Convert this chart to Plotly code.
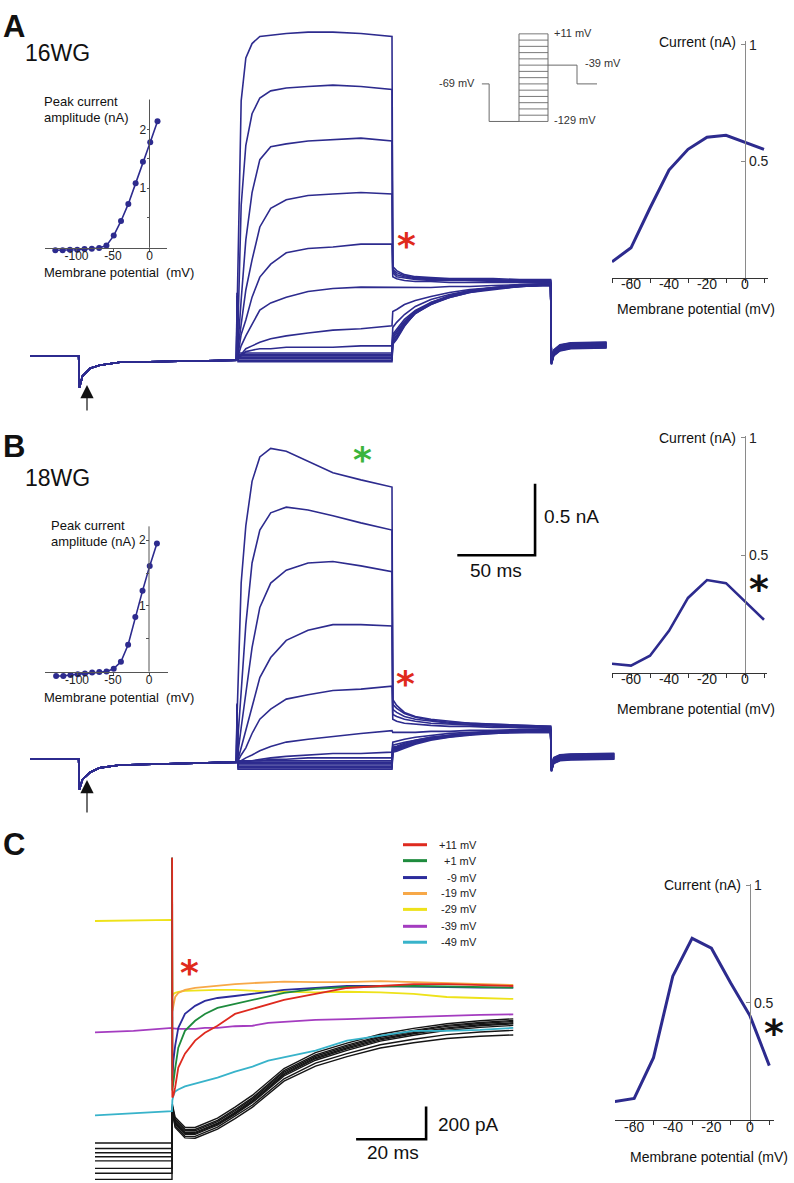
import plotly.graph_objects as go

W, H = 794, 1183
FONT = "Liberation Sans, Arial, Helvetica, sans-serif"
AST_FONT = "DejaVu Sans, Liberation Sans, sans-serif"
NAVY = "#2d2b8e"

# ======================= DATA =======================
test_mV = [11, 1, -9, -19, -29, -39, -49, -59, -69, -79, -89, -99, -109, -119, -129]

# ---- Panel A (16WG) current traces; time in ms (0 = test-pulse onset), current in nA
A_t_pre = [-132.5, -101.5, -101, -99, -94, -88, -75, -40, 0]
A_I_pre = [0.028, 0.028, -0.19, -0.11, -0.056, -0.035, -0.014, -0.007, 0]
A_t_test = [0, 0.3, 1, 3, 6, 10, 15, 22, 32, 46, 62, 80, 100]
A_I_test = [
    [0, 0.30, 0.74, 1.81, 2.11, 2.21, 2.26, 2.27, 2.28, 2.29, 2.29, 2.28, 2.26],
    [0, 0.08, 0.25, 1.08, 1.50, 1.72, 1.83, 1.88, 1.90, 1.91, 1.92, 1.91, 1.89],
    [0, 0.04, 0.11, 0.42, 0.84, 1.17, 1.40, 1.49, 1.51, 1.53, 1.54, 1.55, 1.53],
    [0, 0.03, 0.08, 0.25, 0.49, 0.70, 0.93, 1.06, 1.12, 1.15, 1.16, 1.17, 1.16],
    [0, 0.02, 0.04, 0.18, 0.28, 0.44, 0.58, 0.67, 0.75, 0.78, 0.79, 0.81, 0.81],
    [0, 0.02, 0.03, 0.10, 0.17, 0.25, 0.35, 0.40, 0.44, 0.48, 0.50, 0.51, 0.51],
    [0, 0.05, 0.01, 0.04, 0.08, 0.10, 0.125, 0.15, 0.17, 0.19, 0.21, 0.22, 0.24],
    [0, 0.10, 0.02, 0.03, 0.06, 0.07, 0.08, 0.08, 0.09, 0.09, 0.09, 0.10, 0.10],
    [0, 0.20, 0.05, 0.05, 0.05, 0.05, 0.05, 0.05, 0.05, 0.05, 0.05, 0.05, 0.05],
    [0, 0.25, 0.04, 0.04, 0.04, 0.04, 0.04, 0.04, 0.04, 0.04, 0.04, 0.04, 0.04],
    [0, 0.30, 0.03, 0.03, 0.03, 0.03, 0.03, 0.03, 0.03, 0.03, 0.03, 0.03, 0.03],
    [0, 0.35, 0.02, 0.02, 0.02, 0.02, 0.02, 0.02, 0.02, 0.02, 0.02, 0.02, 0.02],
    [0, 0.40, 0.01, 0.01, 0.01, 0.01, 0.01, 0.01, 0.01, 0.01, 0.01, 0.01, 0.01],
    [0, 0.45, 0.00, 0.00, 0.00, 0.00, 0.00, 0.00, 0.00, 0.00, 0.00, 0.00, 0.00],
    [0, 0.47, -0.01, -0.01, -0.01, -0.01, -0.01, -0.01, -0.01, -0.01, -0.01, -0.01, -0.01],
]
A_t_tail = [100.5, 103, 108, 115, 125, 137, 150, 165, 182, 202, 202.5, 204, 208, 215, 238]
A_I_tail = [
    [0.653, 0.625, 0.597, 0.583, 0.576, 0.569, 0.569, 0.569, 0.563, 0.563, -0.030, 0.030, 0.065, 0.080, 0.085],
    [0.632, 0.611, 0.590, 0.576, 0.569, 0.563, 0.563, 0.563, 0.556, 0.556, -0.028, 0.033, 0.068, 0.083, 0.088],
    [0.625, 0.597, 0.583, 0.569, 0.563, 0.563, 0.556, 0.556, 0.556, 0.556, -0.026, 0.036, 0.071, 0.086, 0.091],
    [0.611, 0.583, 0.576, 0.563, 0.556, 0.556, 0.556, 0.549, 0.549, 0.549, -0.024, 0.039, 0.074, 0.089, 0.094],
    [0.583, 0.569, 0.556, 0.549, 0.549, 0.542, 0.542, 0.542, 0.542, 0.542, -0.022, 0.042, 0.077, 0.092, 0.097],
    [0.507, 0.507, 0.507, 0.507, 0.507, 0.514, 0.514, 0.521, 0.528, 0.535, -0.020, 0.045, 0.080, 0.095, 0.100],
    [0.340, 0.354, 0.389, 0.417, 0.444, 0.472, 0.493, 0.507, 0.521, 0.528, -0.018, 0.048, 0.083, 0.098, 0.103],
    [0.229, 0.264, 0.319, 0.375, 0.424, 0.458, 0.486, 0.507, 0.521, 0.528, -0.016, 0.051, 0.086, 0.101, 0.106],
    [0.181, 0.215, 0.285, 0.347, 0.403, 0.444, 0.479, 0.500, 0.514, 0.521, -0.014, 0.054, 0.089, 0.104, 0.109],
    [0.167, 0.201, 0.271, 0.340, 0.396, 0.444, 0.479, 0.500, 0.514, 0.521, -0.012, 0.057, 0.092, 0.107, 0.112],
    [0.153, 0.188, 0.264, 0.333, 0.396, 0.438, 0.472, 0.500, 0.514, 0.528, -0.010, 0.060, 0.095, 0.110, 0.115],
    [0.139, 0.174, 0.257, 0.333, 0.389, 0.438, 0.472, 0.493, 0.514, 0.528, -0.008, 0.063, 0.098, 0.113, 0.118],
    [0.132, 0.167, 0.250, 0.326, 0.389, 0.444, 0.479, 0.500, 0.521, 0.528, -0.006, 0.066, 0.101, 0.116, 0.121],
    [0.118, 0.153, 0.243, 0.326, 0.396, 0.444, 0.479, 0.500, 0.521, 0.535, -0.004, 0.069, 0.104, 0.119, 0.124],
    [0.111, 0.146, 0.236, 0.333, 0.403, 0.451, 0.486, 0.507, 0.528, 0.535, -0.002, 0.072, 0.107, 0.122, 0.127],
]

# ---- Panel B (18WG) current traces
B_t_pre = [-132.5, -101.5, -101, -99, -94, -88, -75, -40, 0]
B_I_pre = [0.02, 0.02, -0.19, -0.12, -0.07, -0.04, -0.02, -0.01, 0]
B_t_test = [0, 0.3, 1, 3, 6, 10, 15, 22, 32, 46, 62, 80, 100]
B_I_test = [
    [0, 0.30, 0.55, 1.25, 1.65, 1.96, 2.13, 2.19, 2.17, 2.10, 2.02, 1.97, 1.92],
    [0, 0.08, 0.20, 0.49, 0.96, 1.39, 1.62, 1.74, 1.78, 1.76, 1.72, 1.67, 1.62],
    [0, 0.04, 0.07, 0.24, 0.49, 0.80, 1.08, 1.25, 1.34, 1.39, 1.40, 1.37, 1.33],
    [0, 0.03, 0.02, 0.10, 0.22, 0.38, 0.59, 0.73, 0.85, 0.92, 0.96, 0.96, 0.95],
    [0, 0.02, 0.01, 0.05, 0.10, 0.20, 0.30, 0.37, 0.44, 0.47, 0.50, 0.51, 0.53],
    [0, 0.02, 0.00, 0.01, 0.03, 0.05, 0.08, 0.11, 0.14, 0.16, 0.18, 0.20, 0.22],
    [0, 0.05, 0.00, 0.00, 0.01, 0.01, 0.02, 0.03, 0.04, 0.05, 0.06, 0.06, 0.07],
    [0, 0.10, 0.00, 0.00, 0.00, 0.01, 0.01, 0.02, 0.02, 0.03, 0.03, 0.03, 0.03],
    [0, 0.20, 0.01, 0.01, 0.01, 0.01, 0.01, 0.01, 0.01, 0.01, 0.01, 0.01, 0.01],
    [0, 0.25, 0.00, 0.00, 0.00, 0.00, 0.00, 0.00, 0.00, 0.00, 0.00, 0.00, 0.00],
    [0, 0.30, -0.01, -0.01, -0.01, -0.01, -0.01, -0.01, -0.01, -0.01, -0.01, -0.01, -0.01],
    [0, 0.35, -0.02, -0.02, -0.02, -0.02, -0.02, -0.02, -0.02, -0.02, -0.02, -0.02, -0.02],
    [0, 0.38, -0.03, -0.03, -0.03, -0.03, -0.03, -0.03, -0.03, -0.03, -0.03, -0.03, -0.03],
    [0, 0.40, -0.04, -0.04, -0.04, -0.04, -0.04, -0.04, -0.04, -0.04, -0.04, -0.04, -0.04],
    [0, 0.41, -0.05, -0.05, -0.05, -0.05, -0.05, -0.05, -0.05, -0.05, -0.05, -0.05, -0.05],
]
B_t_tail = [100.5, 103, 108, 115, 125, 137, 150, 165, 182, 202, 202.5, 204, 208, 215, 243]
B_I_tail = [
    [0.438, 0.396, 0.347, 0.319, 0.299, 0.285, 0.271, 0.264, 0.257, 0.250, -0.065, -0.010, 0.010, 0.015, 0.020],
    [0.403, 0.375, 0.340, 0.313, 0.292, 0.278, 0.271, 0.264, 0.257, 0.250, -0.063, -0.007, 0.013, 0.018, 0.023],
    [0.368, 0.347, 0.319, 0.299, 0.285, 0.271, 0.264, 0.257, 0.250, 0.243, -0.061, -0.004, 0.016, 0.021, 0.026],
    [0.333, 0.319, 0.299, 0.285, 0.271, 0.264, 0.257, 0.250, 0.243, 0.243, -0.059, -0.001, 0.019, 0.024, 0.029],
    [0.299, 0.285, 0.271, 0.264, 0.257, 0.250, 0.250, 0.243, 0.243, 0.236, -0.057, 0.002, 0.022, 0.027, 0.032],
    [0.208, 0.208, 0.208, 0.208, 0.215, 0.215, 0.222, 0.222, 0.229, 0.229, -0.055, 0.005, 0.025, 0.030, 0.035],
    [0.139, 0.146, 0.160, 0.174, 0.188, 0.201, 0.208, 0.215, 0.222, 0.222, -0.053, 0.008, 0.028, 0.033, 0.038],
    [0.118, 0.125, 0.139, 0.153, 0.174, 0.188, 0.201, 0.215, 0.222, 0.222, -0.051, 0.011, 0.031, 0.036, 0.041],
    [0.104, 0.111, 0.132, 0.153, 0.174, 0.188, 0.201, 0.208, 0.215, 0.222, -0.049, 0.014, 0.034, 0.039, 0.044],
    [0.097, 0.104, 0.125, 0.146, 0.167, 0.188, 0.201, 0.208, 0.215, 0.215, -0.047, 0.017, 0.037, 0.042, 0.047],
    [0.090, 0.097, 0.118, 0.139, 0.167, 0.181, 0.194, 0.208, 0.215, 0.215, -0.045, 0.020, 0.040, 0.045, 0.050],
    [0.083, 0.090, 0.111, 0.139, 0.160, 0.181, 0.194, 0.208, 0.215, 0.215, -0.043, 0.023, 0.043, 0.048, 0.053],
    [0.083, 0.090, 0.111, 0.132, 0.160, 0.181, 0.194, 0.208, 0.208, 0.215, -0.041, 0.026, 0.046, 0.051, 0.056],
    [0.076, 0.083, 0.104, 0.132, 0.160, 0.174, 0.194, 0.201, 0.208, 0.208, -0.039, 0.029, 0.049, 0.054, 0.059],
    [0.069, 0.076, 0.097, 0.125, 0.153, 0.174, 0.188, 0.201, 0.208, 0.208, -0.037, 0.032, 0.052, 0.057, 0.062],
]

# ---- Panel C tail currents at -39 mV (time ms from tail onset, current pA)
C_t_pre = [-22, -11, 0]
C_t_tail = [0.1, 0.4, 0.9, 1.8, 3.7, 6.6, 9.4, 13, 18, 23, 27.5, 32, 41, 50, 59.5, 69, 78.5, 88, 97.5]
C_labels = ["+11 mV", "+1 mV", "-9 mV", "-19 mV", "-29 mV", "-39 mV", "-49 mV"]
C_colors = ["#de2a1f", "#1e8b3d", "#2c2c9c", "#f7a848", "#eee21a", "#a43cc0", "#38b3ca"]
C_pre = [
    [2600, 2600, 2600],
    [2400, 2400, 2400],
    [2200, 2200, 2200],
    [1950, 1950, 1950],
    [1396, 1400, 1403],
    [717, 727, 745],
    [212, 224, 238],
]
C_tail = [
    [321, 333, 382, 503, 588, 667, 715, 758, 830, 861, 891, 915, 952, 988, 1000, 1012, 1012, 1006, 1000],
    [364, 424, 497, 624, 727, 788, 830, 867, 891, 915, 939, 958, 982, 994, 997, 1000, 997, 994, 990],
    [424, 545, 636, 745, 830, 879, 909, 927, 939, 952, 964, 976, 988, 1000, 1000, 997, 990, 990, 990],
    [848, 891, 933, 958, 976, 988, 994, 1000, 1012, 1018, 1024, 1027, 1024, 1024, 1030, 1024, 1018, 1012, 1006],
    [939, 952, 958, 964, 970, 973, 976, 976, 976, 970, 967, 964, 961, 965, 961, 952, 933, 927, 921],
    [742, 742, 740, 739, 739, 739, 745, 745, 755, 758, 776, 782, 794, 798, 806, 812, 818, 824, 827],
    [303, 333, 358, 370, 388, 406, 424, 442, 479, 509, 545, 564, 606, 667, 697, 727, 727, 733, 745],
]
C_t_black = [0.1, 0.9, 3.7, 6.6, 13, 18, 23, 32, 41, 50, 59.5, 69, 78.5, 88, 97.5]
C_black_pre = [44, 10, -16, -40, -65, -111, -141, -178]
C_black = [
    [280, 200, 140, 138, 195, 262, 335, 497, 594, 652, 706, 742, 770, 788, 800],
    [270, 188, 127, 126, 182, 248, 320, 484, 580, 640, 695, 730, 760, 778, 790],
    [262, 180, 119, 118, 174, 240, 312, 476, 572, 632, 688, 724, 754, 772, 784],
    [255, 170, 109, 109, 164, 230, 303, 467, 564, 624, 679, 715, 745, 764, 776],
    [250, 164, 103, 102, 158, 224, 296, 460, 557, 617, 672, 709, 739, 758, 770],
    [245, 158, 97, 96, 152, 218, 290, 452, 548, 608, 664, 700, 730, 748, 760],
    [238, 148, 85, 84, 140, 205, 275, 435, 530, 588, 642, 676, 704, 720, 730],
    [230, 138, 75, 73, 128, 192, 262, 420, 512, 570, 622, 654, 680, 694, 702],
]

# ---- Insets: peak current vs membrane potential
iv_mV = [-129, -119, -109, -99, -89, -79, -69, -59, -49, -39, -29, -19, -9, 1, 11]
iv_A_nA = [-0.06, -0.06, -0.05, -0.05, -0.04, -0.034, -0.02, 0.02, 0.19, 0.44, 0.73, 1.08, 1.45, 1.78, 2.14]
iv_B_nA = [-0.066, -0.066, -0.05, -0.04, -0.03, -0.015, -0.005, 0.0, 0.045, 0.15, 0.41, 0.83, 1.23, 1.61, 1.95]

# ---- Right-hand plots: tail current vs membrane potential
tail_mV = [-70, -60, -50, -40, -30, -20, -10, 0, 10]
tail_A_nA = [0.068, 0.128, 0.299, 0.462, 0.551, 0.603, 0.611, 0.581, 0.551]
tail_B_nA = [0.038, 0.030, 0.072, 0.178, 0.318, 0.394, 0.381, 0.305, 0.225]
tail_C_nA = [0.080, 0.093, 0.267, 0.614, 0.775, 0.733, 0.585, 0.445, 0.233]
right_xticks = [-70, -60, -50, -40, -30, -20, -10, 0, 10]
right_xtext = ["", "-60", "", "-40", "", "-20", "", "0", ""]

# ---- Voltage protocol
prot_times = [-128, -103, 0, 100, 200, 269]
prot_hold, prot_hyp, prot_tail = -69, -129, -39
prot_levels = [11, 1, -9, -19, -29, -39, -49, -59, -69, -79, -89, -99, -109, -119, -129]

# ======================= LAYOUT HELPERS =======================
def dom_x(p0, p1):
    return [p0 / W, p1 / W]

def dom_y(top, bottom):
    return [1 - bottom / H, 1 - top / H]

def rng_x(p0, p1, origin_px, px_per_unit):
    return [(p0 - origin_px) / px_per_unit, (p1 - origin_px) / px_per_unit]

def rng_y(top, bottom, zero_px, px_per_unit):
    return [(zero_px - bottom) / px_per_unit, (zero_px - top) / px_per_unit]

def axn(i):
    return ("x" if i == 1 else f"x{i}"), ("y" if i == 1 else f"y{i}")

fig = go.Figure()

def add(x, y, ax, color=NAVY, width=1.3, mode="lines", **kw):
    xa, ya = axn(ax)
    fig.add_trace(go.Scatter(x=x, y=y, xaxis=xa, yaxis=ya, mode=mode,
                             line=dict(color=color, width=width),
                             showlegend=False, hoverinfo="skip", **kw))

# Panel A traces
for k in range(len(test_mV)):
    add(A_t_pre + A_t_test + A_t_tail, A_I_pre + A_I_test[k] + A_I_tail[k], 1, width=1.6)
# Panel B traces
for k in range(len(test_mV)):
    add(B_t_pre + B_t_test + B_t_tail, B_I_pre + B_I_test[k] + B_I_tail[k], 2, width=1.6)

# Scale bar B (50 ms, 0.5 nA)
sbB_t, sbB_I = 192.0, 1.444
add([sbB_t - 50, sbB_t, sbB_t], [sbB_I, sbB_I, sbB_I + 0.5], 2, color="black", width=2.6)

# Panel C
for k in range(len(C_black)):
    add(C_t_pre + C_t_black, [C_black_pre[k]] * 3 + C_black[k], 3, color="#151515", width=1.4)
for k in reversed(range(len(C_tail))):
    add(C_t_pre + C_t_tail, C_pre[k] + C_tail[k], 3, color=C_colors[k], width=1.8)
sbC_t, sbC_I = 72.6, 66.7
add([sbC_t - 20, sbC_t, sbC_t], [sbC_I, sbC_I, sbC_I + 200], 3, color="black", width=2.6)

# Insets
add(iv_mV, iv_A_nA, 4, width=1.6, mode="lines+markers", marker=dict(size=6, color=NAVY), cliponaxis=False)
add(iv_mV, iv_B_nA, 5, width=1.6, mode="lines+markers", marker=dict(size=6, color=NAVY), cliponaxis=False)

# Right plots
add(tail_mV, tail_A_nA, 6, width=3)
add(tail_mV, tail_B_nA, 7, width=2.6)
add(tail_mV, tail_C_nA, 8, width=3)

# Voltage protocol
PG = "#6a6a6a"
t0, t1, t2, t3, t4, t5 = prot_times
add([t0, t1, t1, t2], [prot_hold, prot_hold, prot_hyp, prot_hyp], 9, color=PG, width=1)
add([t2, t2], [prot_levels[-1], prot_levels[0]], 9, color=PG, width=1)
add([t3, t3], [prot_levels[-1], prot_levels[0]], 9, color=PG, width=1)
for lv in prot_levels:
    add([t2, t3], [lv, lv], 9, color=PG, width=0.9)
add([t3, t4, t4, t5], [prot_tail, prot_tail, prot_hold, prot_hold], 9, color=PG, width=1)

# ======================= AXES =======================
hidden = dict(visible=False, fixedrange=True)
lay = {}
lay["xaxis"] = dict(hidden, domain=dom_x(20, 630), range=rng_x(20, 630, 236.5, 1.555), anchor="y")
lay["yaxis"] = dict(hidden, domain=dom_y(10, 420), range=rng_y(10, 420, 356, 144), anchor="x")
lay["xaxis2"] = dict(hidden, domain=dom_x(20, 630), range=rng_x(20, 630, 236.5, 1.555), anchor="y2")
lay["yaxis2"] = dict(hidden, domain=dom_y(420, 825), range=rng_y(420, 825, 760, 144), anchor="x2")
lay["xaxis3"] = dict(hidden, domain=dom_x(85, 535), range=rng_x(85, 535, 172, 3.5), anchor="y3")
lay["yaxis3"] = dict(hidden, domain=dom_y(856, 1183), range=rng_y(856, 1183, 1150, 0.165), anchor="x3")
lay["xaxis9"] = dict(hidden, domain=dom_x(470, 610), range=rng_x(470, 610, 519, 0.29), anchor="y9")
lay["yaxis9"] = dict(hidden, domain=dom_y(15, 125), range=rng_y(15, 125, 34.9, 0.629), anchor="x9")

AXC = "#555555"
shapes = []
tickfont_small = dict(family=FONT, size=12, color="#222")
def inset_axes(i, xd, xr, yd, yr, x_axis_py, ypos):
    lay[f"xaxis{i}"] = dict(domain=xd, range=xr, anchor="free", position=1 - x_axis_py / H,
                            showline=True, linecolor=AXC,
                            linewidth=1, ticks="outside", ticklen=2, tickcolor=AXC,
                            tickvals=[-100, -50, 0], ticktext=["-100", "-50", "0"],
                            ticklabelstandoff=-5,
                            tickfont=tickfont_small, showgrid=False, zeroline=False, fixedrange=True)
    lay[f"yaxis{i}"] = dict(domain=yd, range=yr, anchor="free", position=ypos, showline=False,
                            ticks="outside", ticklen=3, tickcolor=AXC,
                            tickvals=[0.5, 1, 1.5, 2], ticktext=["", "1", "", "2"],
                            ticklabelstandoff=-2,
                            tickfont=tickfont_small, showgrid=False, zeroline=False, fixedrange=True)
    shapes.append(dict(type="line", xref=f"x{i}", yref="paper", x0=0, x1=0,
                       y0=1 - x_axis_py / H, y1=yd[1], line=dict(color=AXC, width=1)))

inset_axes(4, dom_x(45, 167), rng_x(45, 167, 149.5, 0.73), dom_y(94, 250), rng_y(94, 250, 242, 59), 243, 149.5 / W)
inset_axes(5, dom_x(45, 168), rng_x(45, 168, 149, 0.72), dom_y(523, 676), rng_y(523, 676, 669, 66), 669, 149 / W)

tickfont_right = dict(family=FONT, size=14, color="#222")
def right_axes(i, xd, xr, yd, yr, ypos):
    lay[f"xaxis{i}"] = dict(domain=xd, range=xr, anchor=f"y{i}", showline=True, linecolor="#333",
                            linewidth=1, ticks="outside", ticklen=4, tickcolor="#333",
                            tickvals=right_xticks, ticktext=right_xtext, tickfont=tickfont_right,
                            ticklabelstandoff=-10,
                            showgrid=False, zeroline=False, fixedrange=True)
    lay[f"yaxis{i}"] = dict(domain=yd, range=yr, anchor="free", position=ypos, side="right",
                            showline=True, linecolor="#8a8a8a", linewidth=1.2, ticks="inside",
                            ticklen=4, tickcolor="#8a8a8a", tickvals=[0.5, 1], ticktext=["0.5", "1"],
                            tickfont=tickfont_right, showgrid=False, zeroline=False, fixedrange=True)

right_axes(6, dom_x(612, 768), rng_x(612, 768, 745, 1.9), dom_y(35, 273), rng_y(35, 273, 273, 234), 745 / W)
right_axes(7, dom_x(612, 767), rng_x(612, 767, 745, 1.9), dom_y(432, 670), rng_y(432, 670, 670, 236), 745 / W)
right_axes(8, dom_x(615, 774), rng_x(615, 774, 750, 1.93), dom_y(882, 1120), rng_y(882, 1120, 1120, 236), 750 / W)

# ======================= TEXT =======================
anns = []
def text(s, x, y, size, xanchor="left", color="#111", bold=False, yshift=0, family=FONT):
    anns.append(dict(text=(f"<b>{s}</b>" if bold else s), x=x / W, y=1 - y / H,
                     xref="paper", yref="paper", xanchor=xanchor, yanchor="middle",
                     showarrow=False, yshift=yshift,
                     font=dict(family=family, size=size, color=color)))

# panel letters and names
text("A", 1, 21, 31, bold=True)
text("B", 1, 443, 31, bold=True)
text("C", 1, 843, 31, bold=True)
text("16WG", 23, 47, 23)
text("18WG", 23, 474, 23)

# insets
text("Peak current", 42, 96, 13)
text("amplitude (nA)", 42, 112, 13)
text("Membrane potential\u00a0 (mV)", 42, 268, 13)
text("Peak current", 49, 522, 13)
text("amplitude (nA)", 49, 538, 13)
text("Membrane potential\u00a0 (mV)", 42, 695, 13)

# right plots
text("Current (nA)", 738, 36, 14, xanchor="right")
text("Membrane potential (mV)", 696, 305, 14, xanchor="center")
text("Current (nA)", 738, 434, 14, xanchor="right")
text("Membrane potential (mV)", 696, 707, 14, xanchor="center")
text("Current (nA)", 743, 883, 14, xanchor="right")
text("Membrane potential (mV)", 709, 1157, 14, xanchor="center")

# protocol labels
text("+11 mV", 552, 27, 11, color="#333")
text("-39 mV", 583, 57, 11, color="#333")
text("-129 mV", 552, 115, 11, color="#333")
text("-69 mV", 477, 77, 11, xanchor="right", color="#333")

# scale bar labels
text("0.5 nA", 542, 513, 19)
text("50 ms", 468, 567, 19)
text("200 pA", 436, 1124, 19)
text("20 ms", 365, 1152, 19)

# C legend
leg_y = [843, 859, 876, 892, 908, 925, 941]
for lbl, col, yy in zip(C_labels, C_colors, leg_y):
    shapes.append(dict(type="line", xref="paper", yref="paper", x0=403 / W, x1=427 / W,
                       y0=1 - yy / H, y1=1 - yy / H, line=dict(color=col, width=3)))
    text(lbl, 479, yy, 11, xanchor="right", color="#222")

# asterisks
AST = 36
YS = -1
text("*", 406, 240, AST, xanchor="center", color="#e02a1c", bold=True, yshift=YS, family=AST_FONT)
text("*", 362, 455, AST, xanchor="center", color="#3cb43c", bold=True, yshift=YS, family=AST_FONT)
text("*", 405, 680, AST, xanchor="center", color="#e02a1c", bold=True, yshift=YS, family=AST_FONT)
text("*", 189, 970, AST, xanchor="center", color="#e02a1c", bold=True, yshift=YS, family=AST_FONT)
text("*", 759, 585, AST + 2, xanchor="center", color="#111", bold=True, yshift=YS, family=AST_FONT)
text("*", 774, 1031, AST + 2, xanchor="center", color="#111", bold=True, yshift=YS, family=AST_FONT)

# arrows
for tip, tail in [(381, 408), (778, 812)]:
    anns.append(dict(x=87 / W, y=1 - tip / H, xref="paper", yref="paper", text="",
                     showarrow=True, ax=0, ay=tail - tip, arrowhead=2, arrowsize=2.2,
                     arrowwidth=1.2, arrowcolor="#111"))

fig.update_layout(
    width=W, height=H, margin=dict(l=0, r=0, t=0, b=0),
    paper_bgcolor="white", plot_bgcolor="rgba(0,0,0,0)",
    showlegend=False, annotations=anns, shapes=shapes,
    font=dict(family=FONT), **lay,
)

fig.write_html("out.html", config={"displayModeBar": False},
               post_script="document.body.style.margin='0px';")
